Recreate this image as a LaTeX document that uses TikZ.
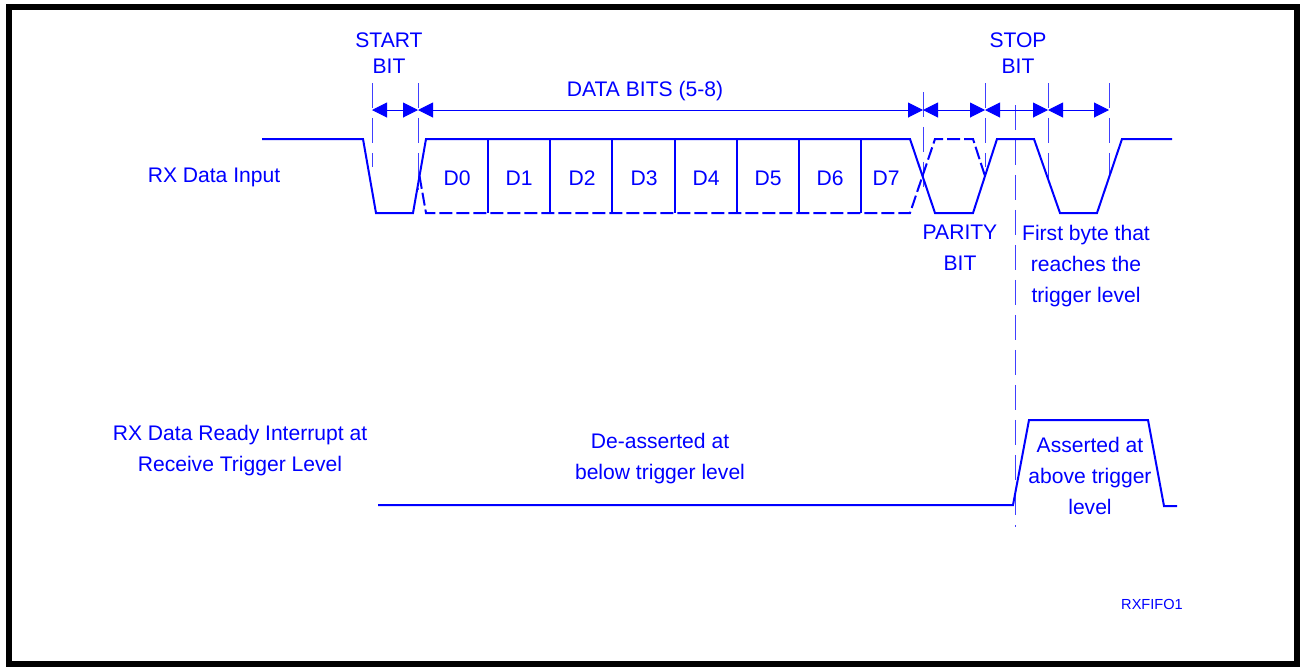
\documentclass[tikz,border=0pt]{standalone}
\usepackage{fontspec}
\setmainfont{Liberation Sans}
\usetikzlibrary{arrows.meta}

\begin{document}
\begin{tikzpicture}[x=0.02cm, y=-0.02cm,
  sig/.style={blue, line width=0.04cm},
  sigdash/.style={sig, dash pattern=on 0.26cm off 0.08cm},
  marker/.style={blue!75, line width=0.02cm, dash pattern=on 0.5cm off 0.2cm},
  dim/.style={blue, line width=0.02cm, {Triangle[length=0.3cm,width=0.3cm]}-{Triangle[length=0.3cm,width=0.3cm]}},
  lbl/.style={text=blue, inner sep=0pt, align=center, font=\fontsize{12}{17.6}\selectfont},
]
\useasboundingbox (0,0) rectangle (1305,667);
\draw[line width=0.12cm] (9,7) rectangle (1297,664);

% bit edges on the dimension line
\coordinate (A) at (372,110);
\coordinate (B) at (418,110);
\coordinate (C) at (923,110);
\coordinate (D) at (985,110);
\coordinate (E) at (1048,110);
\coordinate (F) at (1109,110);

\draw[marker] (372,83) -- (372,167);
\draw[marker] (418,83) -- (418,190);
\draw[marker] (923,92) -- (923,187);
\draw[marker] (985,83) -- (985,167);
\draw[marker] (1015,105) -- (1015,527);
\draw[marker] (1048,83) -- (1048,178);
\draw[marker] (1109,83) -- (1109,183);

\draw[dim] (A) -- (B);
\draw[dim] (B) -- (C);
\draw[dim] (C) -- (D);
\draw[dim] (D) -- (E);
\draw[dim] (E) -- (F);

% RX data input
\draw[sig] (262,139) -- (363,139) -- (376,213) -- (413,213) -- (426,139) -- (910,139)
  -- (935,213) -- (973,213) -- (997,139) -- (1034,139) -- (1060,213) -- (1097,213)
  -- (1122,139) -- (1172,139);
\draw[sigdash] (419.5,176) -- (426,213) -- (910,213) -- (935,139) -- (973,139) -- (985,176);
\foreach \x in {0,...,6}
  \draw[sig] (488+62.2*\x,139) -- (488+62.2*\x,213);
\foreach \x/\t in {457/D0, 519/D1, 582/D2, 644/D3, 706/D4, 768/D5, 830/D6, 886/D7}
  \node[lbl] (\t) at (\x,178) {\t};

% interrupt output
\draw[sig] (378,505) -- (1013,505) -- (1029,420) -- (1148,420) -- (1164,506) -- (1177,506);
%\draw[sig, line width=0.06cm] (1164,506) -- (1177,506);

\node[lbl, anchor=north, font=\fontsize{12}{15}\selectfont] (startbit) at (389,32) {START\\BIT};
\node[lbl, anchor=base] (databits) at (645,96) {DATA BITS (5-8)};
\node[lbl, anchor=north, font=\fontsize{12}{15}\selectfont] (stopbit) at (1018,32) {STOP\\BIT};
\node[lbl, anchor=north] (paritybit) at (960,225) {PARITY\\BIT};
\node[lbl, anchor=north] (firstbyte) at (1086,225) {First byte that\\reaches the\\trigger level};
\node[lbl, anchor=base] (rxinput) at (214,182) {RX Data Input};
\node[lbl, anchor=north] (rxready) at (240,425) {RX Data Ready Interrupt at\\Receive Trigger Level};
\node[lbl, anchor=north] (deasserted) at (660,433) {De-asserted at\\below trigger level};
\node[lbl, anchor=north] (asserted) at (1090,437) {Asserted at\\above trigger\\level};
\node[lbl, font=\fontsize{8.3}{10}\selectfont] (figid) at (1152,604) {RXFIFO1};

\end{tikzpicture}
\end{document}
